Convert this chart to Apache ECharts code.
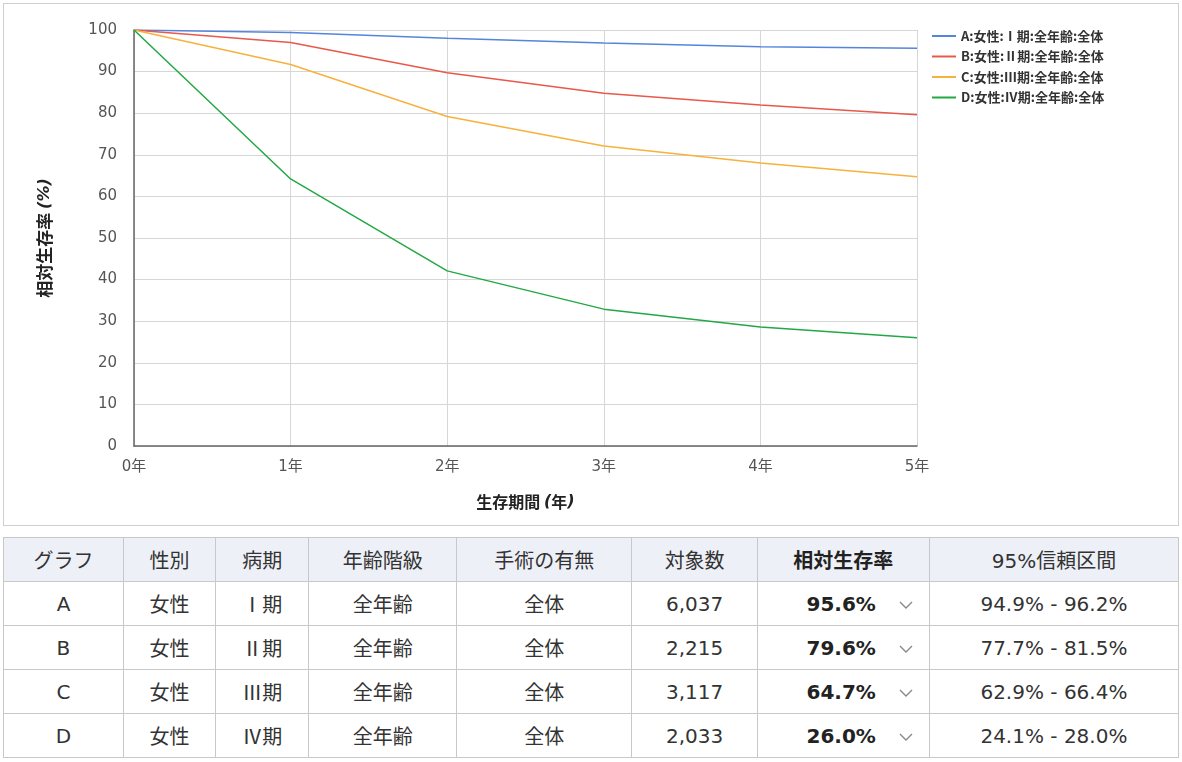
<!DOCTYPE html>
<html><head><meta charset="utf-8">
<script src="https://cdn.jsdelivr.net/npm/echarts@6/dist/echarts.min.js"></script>
<style>
html,body{margin:0;padding:0;background:#fff;width:1182px;height:762px;overflow:hidden;font-family:"DejaVu Sans","Noto Sans CJK JP",sans-serif;}
#frame{position:absolute;left:3px;top:3px;width:1174px;height:521px;border:1px solid #cfcfcf;}
#chart{position:absolute;left:0;top:0;width:1182px;height:528px;}
table{position:absolute;left:3px;top:537px;border-collapse:collapse;width:1176px;font-size:20px;color:#333;}
th,td{border:1px solid #c8c8c8;text-align:center;height:43px;padding:0;font-weight:normal;font-family:"DejaVu Sans","Noto Sans CJK JP",sans-serif;}
th{background:#eef0f7;}
.b{font-weight:bold;color:#222;}
.cjk{font-family:"Noto Sans CJK JP",sans-serif;}
.rate{text-align:right;padding-right:15px;}
.rate svg{margin-left:22px;vertical-align:middle;}
</style></head><body>
<div id="frame"></div>
<div id="chart"></div>
<table id="tbl"></table>
<script>
const years = ['0年','1年','2年','3年','4年','5年'];
const seriesNames = ['A:女性:Ⅰ期:全年齢:全体','B:女性:Ⅱ期:全年齢:全体','C:女性:Ⅲ期:全年齢:全体','D:女性:Ⅳ期:全年齢:全体'];
const valuesA = [100, 99.4, 98.0, 96.9, 96.0, 95.6];
const valuesB = [100, 97.0, 89.7, 84.8, 82.0, 79.6];
const valuesC = [100, 91.7, 79.2, 72.1, 68.0, 64.7];
const valuesD = [100, 64.2, 42.1, 32.9, 28.6, 26.0];
const colors = ['#5585db','#e8584c','#f6b23c','#22a845'];

const tblHeaders = ['グラフ','性別','病期','年齢階級','手術の有無','対象数','相対生存率','95%信頼区間'];
const tblGraph = ['A','B','C','D'];
const tblSex = ['女性','女性','女性','女性'];
const tblStage = ['Ⅰ期','Ⅱ期','Ⅲ期','Ⅳ期'];
const tblAge = ['全年齢','全年齢','全年齢','全年齢'];
const tblSurgery = ['全体','全体','全体','全体'];
const tblCount = ['6,037','2,215','3,117','2,033'];
const tblRate = ['95.6%','79.6%','64.7%','26.0%'];
const tblCI = ['94.9% - 96.2%','77.7% - 81.5%','62.9% - 66.4%','24.1% - 28.0%'];

const CJK = '"Noto Sans CJK JP",sans-serif';
const MIX = '"DejaVu Sans","Noto Sans CJK JP",sans-serif';
const chart = echarts.init(document.getElementById('chart'), null, {renderer:'canvas'});
const allVals = [valuesA, valuesB, valuesC, valuesD];
chart.setOption({
  animation:false,
  grid:{left:134, top:30, width:783, height:416},
  legend:{
    orient:'vertical', left:927, top:24.5, itemWidth:24, itemHeight:2, itemGap:7.5, icon:'rect',
    textStyle:{fontSize:13, lineHeight:13, fontWeight:'bold', color:'#333', fontFamily:CJK},
    data:seriesNames
  },
  xAxis:{
    type:'category', data:years, boundaryGap:false,
    name:'{a|生存期間 }{i|(}{a|年}{i|)}', nameLocation:'middle', nameGap:48,
    nameTextStyle:{fontSize:16, fontWeight:'bold', color:'#222', fontFamily:CJK,
      rich:{a:{fontSize:16, fontWeight:'bold', color:'#222', fontFamily:CJK},
            i:{fontSize:16, fontWeight:'bold', fontStyle:'italic', color:'#222', fontFamily:'"DejaVu Sans",sans-serif'}}},
    axisLine:{lineStyle:{color:'#666', width:1.5}},
    axisTick:{show:false},
    axisLabel:{color:'#555', fontSize:15, margin:14, fontFamily:MIX},
    splitLine:{show:true, lineStyle:{color:'#d6d6d6'}}
  },
  yAxis:{
    type:'value', min:0, max:100, interval:10,
    name:'{a|相対生存率 }{i|(%)}', nameLocation:'middle', nameGap:81, nameRotate:90,
    nameTextStyle:{fontSize:17, fontWeight:'bold', color:'#222', fontFamily:CJK,
      rich:{a:{fontSize:17, fontWeight:'bold', color:'#222', fontFamily:CJK},
            i:{fontSize:16, fontWeight:'bold', fontStyle:'italic', color:'#222', fontFamily:'"DejaVu Sans",sans-serif'}}},
    axisLine:{show:true, lineStyle:{color:'#666', width:1.5}},
    axisTick:{show:false},
    axisLabel:{color:'#555', fontSize:15, margin:17, fontFamily:'"DejaVu Sans",sans-serif'},
    splitLine:{show:true, lineStyle:{color:'#d6d6d6'}}
  },
  series: seriesNames.map((n,i)=>({
    name:n, type:'line', data:allVals[i], showSymbol:false, symbol:'none',
    lineStyle:{width:1.5, color:colors[i]}, itemStyle:{color:colors[i]}
  }))
});

const chev = '<svg width="16" height="10" viewBox="0 0 16 10"><polyline points="2,2 8,8 14,2" fill="none" stroke="#888" stroke-width="1.4"/></svg>';
let html = '<tr>' + tblHeaders.map((h,i)=>`<th${i===6?' class="b"':''}>${h}</th>`).join('') + '</tr>';
const widths = [120,92,93,148,176,125,172,250];
for(let r=0;r<tblGraph.length;r++){
  html += `<tr><td>${tblGraph[r]}</td><td>${tblSex[r]}</td><td class="cjk">${tblStage[r]}</td><td>${tblAge[r]}</td><td>${tblSurgery[r]}</td><td>${tblCount[r]}</td><td class="rate"><span class="b">${tblRate[r]}</span>${chev}</td><td>${tblCI[r]}</td></tr>`;
}
const t = document.getElementById('tbl');
t.innerHTML = html;
const cells = t.rows[0].cells;
for(let i=0;i<cells.length;i++) cells[i].style.width = widths[i]+'px';
</script>
</body></html>
